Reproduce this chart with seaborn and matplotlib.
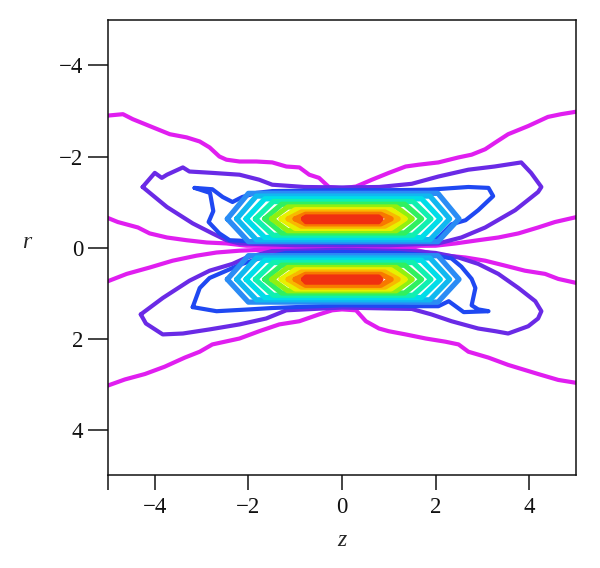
import matplotlib
matplotlib.use("Agg")
import matplotlib.pyplot as plt
import seaborn as sns

# ---- contour data: (z, r) vertices ----
# level 1 (magenta), four open branches
mag_up_out_z = [-5.1, -4.68, -4.47, -4.04, -3.68, -3.32, -3.04, -2.83, -2.62, -2.47, -2.19, -1.83, -1.49,
                -1.19, -0.91, -0.70, -0.49, -0.28, 0.0, 0.30, 0.64, 1.0, 1.36, 1.64, 2.06, 2.49, 2.77, 3.06,
                3.28, 3.55, 3.98, 4.40, 4.68, 5.1]
mag_up_out_r = [-2.89, -2.93, -2.82, -2.64, -2.49, -2.42, -2.33, -2.2, -2.0, -1.93, -1.89, -1.89, -1.87,
                -1.78, -1.76, -1.6, -1.53, -1.33, -1.3, -1.34, -1.49, -1.64, -1.78, -1.82, -1.87, -1.98,
                -2.04, -2.16, -2.31, -2.49, -2.67, -2.87, -2.93, -3.0]
mag_up_in_z = [-5.1, -4.79, -4.36, -4.11, -3.74, -3.32, -2.89, -2.47, -2.04, -1.0, 0.0, 1.0, 2.0, 2.43,
               2.91, 3.34, 3.77, 4.19, 4.55, 5.1]
mag_up_in_r = [-0.69, -0.56, -0.44, -0.31, -0.22, -0.16, -0.11, -0.09, -0.04, -0.03, -0.03, -0.03, -0.04,
               -0.09, -0.16, -0.22, -0.31, -0.44, -0.56, -0.69]
mag_lo_in_z = [-5.1, -4.6, -4.11, -3.62, -3.11, -2.68, -2.19, -1.5, 0.0, 1.5, 2.06, 2.64, 3.06, 3.49,
               3.91, 4.34, 4.62, 5.1]
mag_lo_in_r = [0.78, 0.58, 0.44, 0.29, 0.18, 0.11, 0.07, 0.04, 0.03, 0.04, 0.16, 0.22, 0.29, 0.40,
               0.51, 0.58, 0.69, 0.80]
mag_lo_out_z = [-5.1, -4.64, -4.21, -3.79, -3.36, -3.04, -2.77, -2.19, -1.77, -1.34, -0.91, -0.49, -0.21,
                0.0, 0.3, 0.51, 0.79, 1.0, 1.36, 1.79, 2.21, 2.49, 2.70, 3.13, 3.55, 4.19, 4.62, 5.1]
mag_lo_out_r = [3.07, 2.9, 2.78, 2.62, 2.42, 2.29, 2.13, 2.0, 1.84, 1.69, 1.62, 1.47, 1.38,
                1.36, 1.38, 1.62, 1.78, 1.84, 1.91, 2.0, 2.07, 2.13, 2.29, 2.42, 2.58, 2.78, 2.91, 2.99]

# level 2 (violet), closed loops
vio_up_z = [-4.26, -4.0, -3.85, -3.74, -3.4, -3.26, -2.77, -2.19, -1.77, -1.49, -0.8, 0.0, 0.8, 1.49, 2.06,
            2.7, 3.26, 3.83, 4.04, 4.26, 4.19, 3.7, 3.06, 2.55, 2.06, 1.0, 0.0, -1.0, -2.19, -2.47, -2.77,
            -3.19, -3.74, -4.26]
vio_up_r = [-1.33, -1.64, -1.53, -1.6, -1.76, -1.67, -1.64, -1.6, -1.49, -1.38, -1.33, -1.32, -1.33, -1.4,
            -1.56, -1.71, -1.78, -1.87, -1.64, -1.33, -1.22, -0.82, -0.44, -0.22, -0.09, -0.05, -0.05,
            -0.05, -0.09, -0.16, -0.31, -0.53, -0.89, -1.33]
vio_lo_z = [-4.3, -3.83, -3.26, -2.83, -2.34, -2.04, -1.5, 0.0, 1.5, 2.0, 2.49, 2.91, 3.34, 3.77, 4.13,
            4.26, 4.19, 3.98, 3.55, 3.28, 2.91, 2.34, 1.91, 1.49, 0.0, -1.19, -1.62, -2.19, -2.83, -3.4,
            -3.83, -4.19, -4.3]
vio_lo_r = [1.47, 1.11, 0.73, 0.51, 0.36, 0.22, 0.08, 0.05, 0.08, 0.12, 0.22, 0.36, 0.58, 0.89, 1.18,
            1.4, 1.56, 1.73, 1.89, 1.84, 1.78, 1.62, 1.47, 1.35, 1.32, 1.38, 1.56, 1.69, 1.8, 1.89,
            1.91, 1.67, 1.47]

# level 3 (blue), closed loops
blu_up_z = [-3.15, -2.77, -2.55, -2.34, -2.13, -1.83, -1.49, 0.0, 1.0, 1.85, 2.7, 3.13, 3.23, 2.91, 2.64,
            2.34, 2.06, 1.5, 0.0, -1.5, -2.4, -2.62, -2.85, -2.75, -2.82, -3.15]
blu_up_r = [-1.31, -1.28, -1.11, -1.0, -1.11, -1.2, -1.24, -1.26, -1.26, -1.27, -1.33, -1.31, -1.13, -0.82,
            -0.6, -0.51, -0.22, -0.12, -0.1, -0.12, -0.16, -0.31, -0.56, -0.8, -1.2, -1.31]
blu_lo_z = [-3.19, -3.04, -2.83, -2.47, -2.13, -1.77, -1.2, 0.0, 1.2, 2.0, 2.34, 2.55, 2.77, 2.85, 2.77,
            2.91, 3.13, 2.6, 2.4, 2.28, 2.06, 1.5, 0.0, -1.49, -1.98, -2.68, -3.19]
blu_lo_r = [1.31, 0.89, 0.67, 0.51, 0.36, 0.24, 0.12, 0.1, 0.12, 0.18, 0.24, 0.42, 0.69, 0.89, 1.27,
            1.36, 1.4, 1.42, 1.27, 1.18, 1.29, 1.29, 1.27, 1.33, 1.36, 1.4, 1.31]

# inner levels of both lobes: tip positions in z and edges in r
tip_left = [-2.45, -2.25, -2.05, -1.85, -1.65, -1.5, -1.3, -1.15, -1.0, -0.82]
tip_right = [2.5, 2.3, 2.1, 1.9, 1.7, 1.5, 1.35, 1.2, 1.05, 0.83]
tip_len = [0.45, 0.42, 0.4, 0.38, 0.36, 0.34, 0.3, 0.28, 0.22, 0.05]
up_r_out = [-1.19, -1.13, -1.07, -1.01, -0.95, -0.89, -0.83, -0.78, -0.73, -0.67]
up_r_in = [-0.13, -0.17, -0.22, -0.27, -0.32, -0.37, -0.42, -0.47, -0.52, -0.57]
lo_r_in = [0.18, 0.23, 0.28, 0.33, 0.39, 0.44, 0.49, 0.54, 0.59, 0.65]
lo_r_out = [1.2, 1.15, 1.1, 1.05, 1.0, 0.95, 0.91, 0.87, 0.83, 0.76]
up_tip_r = -0.63
lo_tip_r = 0.70

mag_color = "#e01ef0"
vio_color = "#6a2ae6"
blu_color = "#1f48f2"
inner_colors = ["#2a8cf5", "#10b8f0", "#00dde8", "#10f0b0", "#30f060",
                "#90f010", "#e8f000", "#f8b800", "#f87800", "#f03010"]

sns.set_theme(style="ticks")
plt.rcParams["font.family"] = ["Liberation Serif", "DejaVu Serif"]
plt.rcParams["axes.unicode_minus"] = True

fig = plt.figure(figsize=(6.0, 5.68), dpi=100)
ax = fig.add_axes([0.18, 0.1637, 0.78, 0.8011])


def draw(z, r, color, lw=3.0):
    sns.lineplot(x=z, y=r, sort=False, estimator=None, color=color, lw=lw,
                 ax=ax, solid_joinstyle="round", solid_capstyle="round")


for z, r in [(mag_up_out_z, mag_up_out_r), (mag_up_in_z, mag_up_in_r),
             (mag_lo_in_z, mag_lo_in_r), (mag_lo_out_z, mag_lo_out_r)]:
    draw(z, r, mag_color)
draw(vio_up_z, vio_up_r, vio_color)
draw(vio_lo_z, vio_lo_r, vio_color)
draw(blu_up_z, blu_up_r, blu_color)
draw(blu_lo_z, blu_lo_r, blu_color)

for i, c in enumerate(inner_colors):
    zl, zr, dz = tip_left[i], tip_right[i], tip_len[i]
    zs = [zl, zl + dz, zr - dz, zr, zr - dz, zl + dz, zl]
    draw(zs, [up_tip_r, up_r_out[i], up_r_out[i], up_tip_r, up_r_in[i], up_r_in[i], up_tip_r], c, 3.8)
    draw(zs, [lo_tip_r, lo_r_in[i], lo_r_in[i], lo_tip_r, lo_r_out[i], lo_r_out[i], lo_tip_r], c, 3.8)

ax.set_xlim(-5, 5)
ax.set_ylim(5, -5)
ax.set_xticks([-5, -4, -2, 0, 2, 4], ["", "\u22124", "\u22122", "0", "2", "4"])
ax.set_yticks([-4, -2, 0, 2, 4], ["\u22124", "\u22122", "0", "2", "4"])
ax.tick_params(axis="x", length=10.8, width=1.1, pad=5, labelsize=16.5, colors="#111111")
ax.tick_params(axis="y", length=14.4, width=1.1, pad=3.5, labelsize=16.5, colors="#111111")
for s in ax.spines.values():
    s.set_visible(True)
    s.set_color("#111111")
    s.set_linewidth(1.1)

ax.set_xlabel("z", fontsize=17, style="italic")
ax.set_ylabel("r", fontsize=17, style="italic", rotation=0)
ax.xaxis.set_label_coords(0.5, -0.145)
ax.yaxis.set_label_coords(-0.173, 0.51)
ax.xaxis.label.set_va("center")
ax.yaxis.label.set_va("center")

fig.savefig("out.png", dpi=100)
